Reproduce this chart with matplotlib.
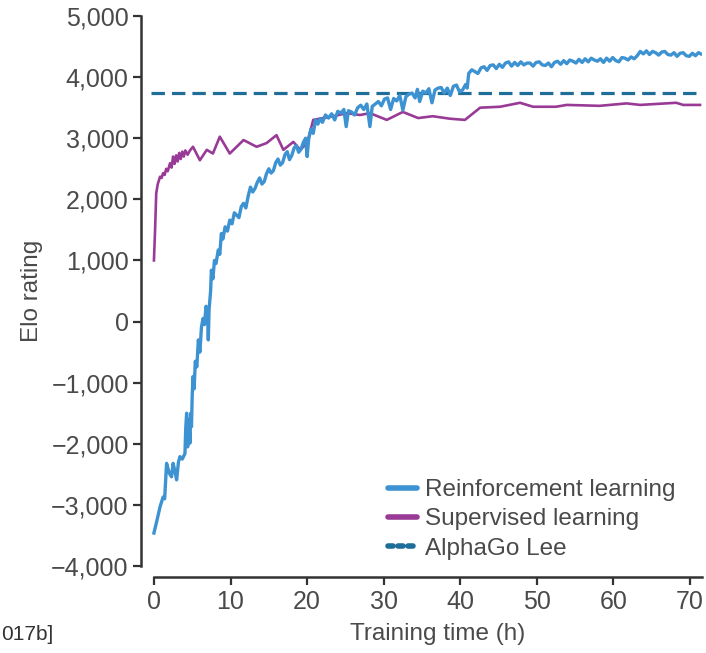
import matplotlib.pyplot as plt
from matplotlib.lines import Line2D
from matplotlib.ticker import FuncFormatter

plt.rcParams['font.family'] = ['Liberation Sans', 'DejaVu Sans']

# Reinforcement learning (blue)
rl_hours = [0, 0.4, 0.8, 1.2, 1.4, 1.65, 2.0, 2.3, 2.5, 2.75, 2.96, 3.2, 3.4, 3.7, 4.05, 4.15,
            4.27, 4.4, 4.55, 4.7, 4.8, 4.9, 5.0, 5.1, 5.25, 5.4, 5.6, 5.8, 6.0, 6.2, 6.4, 6.6,
            6.8, 7.0, 7.1, 7.2, 7.4, 7.5, 7.7, 7.9, 8.1, 8.4, 8.6, 8.8, 9.0, 9.3, 9.6, 9.9,
            10.2, 10.5, 10.8, 11.1, 11.4, 11.7, 12.0, 12.3, 12.6, 12.9, 13.2, 13.5, 13.8, 14.1,
            14.4, 14.7, 15.0, 15.3, 15.6, 15.9, 16.2, 16.5, 16.8, 17.1, 17.4, 17.7, 18.0, 18.3,
            18.6, 18.9, 19.2, 19.5, 19.8, 20.0, 20.2, 20.5, 20.8, 21.1, 21.4, 21.7,
            22.0, 22.4, 22.8, 23.2, 23.6, 24.0, 24.4, 24.8, 25.1, 25.4, 25.8, 26.2, 26.6, 27.0,
            27.4, 27.8, 28.2, 28.5, 28.9, 29.3, 29.7, 30.1, 30.5, 30.9, 31.3, 31.7, 32.1, 32.5,
            32.9, 33.3, 33.7, 34.1, 34.4, 34.7, 35.1, 35.5, 35.9, 36.3, 36.7, 37.1, 37.5, 37.9,
            38.3, 38.7, 39.1, 39.5, 39.9, 40.3, 40.7, 40.9,
            41.1, 41.5, 41.9, 42.3, 42.7, 43.1, 43.5, 43.9, 44.3, 44.7, 45.1, 45.5, 45.9, 46.3,
            46.7, 47.1, 47.5, 47.9, 48.3, 48.7, 49.1, 49.5, 49.9, 50.3, 50.7, 51.1, 51.5, 51.9,
            52.3, 52.7, 53.1, 53.5, 53.9, 54.3, 54.7, 55.1, 55.5, 55.9, 56.3, 56.7, 57.1, 57.5,
            57.9, 58.3, 58.7, 59.1, 59.5, 59.9, 60.3, 60.7, 61.1, 61.5, 61.9, 62.3, 62.7, 63.1,
            63.5, 63.9, 64.3, 64.7, 65.1, 65.5, 65.9, 66.3, 66.7, 67.1, 67.5, 67.9, 68.3, 68.7,
            69.1, 69.5, 69.9, 70.3, 70.7, 71.1, 71.4]
rl_elo = [-3460, -3250, -3030, -2870, -2900, -2320, -2480, -2540, -2320, -2450, -2590, -2300,
          -2210, -2250, -2160, -1750, -1500, -2050, -1600, -1990, -1500, -1720, -1200, -900,
          -1100, -650, -740, -300, -500, -100, 50, -50, 250, 150, -300, 200, 500, 840, 700, 1000,
          950, 1170, 1100, 1440, 1350, 1550, 1480, 1660,
          1600, 1780, 1740, 1700, 1880, 1935, 1860, 2050, 2200, 2120, 2180, 2280, 2350, 2250,
          2290, 2420, 2500, 2430, 2470, 2600, 2660, 2560, 2600, 2730, 2780, 2650, 2720, 2840,
          2880, 2770, 2820, 2930, 3000, 2700, 2980, 3150, 3080, 3300, 3230, 3320,
          3260, 3380, 3330, 3400, 3300, 3440, 3410, 3470, 3190, 3450, 3430, 3380, 3500, 3540,
          3470, 3560, 3190, 3520, 3560, 3600, 3530, 3640, 3660, 3470, 3650, 3610, 3700, 3460,
          3680, 3720, 3740, 3660, 3800, 3600, 3770, 3740, 3810, 3580, 3790, 3820, 3830, 3740,
          3820, 3700, 3850, 3870, 3760, 3790, 3880, 3820,
          4060, 4120, 4090, 4060, 4150, 4170, 4110, 4190, 4200, 4140, 4210, 4160, 4230, 4250,
          4180, 4240, 4190, 4250, 4200, 4230, 4230, 4180, 4240, 4250, 4200, 4190, 4230, 4170,
          4240, 4260, 4210, 4270, 4220, 4280, 4260, 4230, 4290, 4240, 4300, 4250, 4310, 4280,
          4260, 4300, 4240, 4310, 4260, 4320, 4270, 4250, 4320, 4310, 4280, 4330, 4300, 4350,
          4420, 4380, 4430, 4370, 4420, 4400, 4360, 4410, 4420, 4370, 4360, 4400, 4340, 4390,
          4400, 4350, 4340, 4390, 4350, 4400, 4380]

# Supervised learning (purple)
sl_hours = [0, 0.15, 0.3, 0.5, 0.8, 1.0, 1.2, 1.4, 1.6, 1.8, 2.1, 2.3, 2.5, 2.7, 2.9, 3.1, 3.3,
            3.5, 3.7, 3.9, 4.1, 4.4, 4.7, 5.1, 6.0, 6.9, 7.7, 8.6, 9.9, 11.7, 13.4, 14.7, 16.0,
            16.9, 18.2, 19.1, 20.0, 20.8, 23.0, 25.2, 26.9, 28.2, 30.4, 32.5, 34.5, 36.4, 38.6,
            40.6, 42.6, 45.2, 47.8, 49.5, 52.5, 53.9, 58.2, 61.7, 63.5, 68.2, 69.1, 71.3]
sl_elo = [1000, 1500, 2100, 2250, 2370, 2350, 2430, 2400, 2500, 2460, 2590, 2520, 2700, 2580,
          2720, 2620, 2760, 2660, 2780, 2700, 2800, 2730, 2800, 2860, 2640, 2810, 2750, 3025,
          2750, 2970, 2860, 2920, 3050, 2810, 2940, 2810, 2920, 3300, 3350, 3410, 3380, 3410,
          3300, 3430, 3330, 3360, 3320, 3300, 3500, 3515, 3580, 3515, 3515, 3545, 3530, 3570,
          3545, 3580, 3545, 3545]

alphago_lee = 3739

x_ticks = [0, 10, 20, 30, 40, 50, 60, 70]
y_ticks = [-4000, -3000, -2000, -1000, 0, 1000, 2000, 3000, 4000, 5000]

blue = '#3d92d2'
purple = '#993a96'
teal = '#1f6d99'
txt = '#4a4a4a'

fig = plt.figure(figsize=(7.06, 6.53), dpi=100)
ax = fig.add_axes([0.2137, 0.1332, 0.780, 0.8423])

ax.axhline(alphago_lee, color=teal, lw=2.3, dashes=(4.2, 2.2))
ax.plot(sl_hours, sl_elo, color=purple, lw=1.9)
ax.plot(rl_hours, rl_elo, color=blue, lw=2.4)

ax.set_xlim(-0.4, 71.5)
ax.set_ylim(-4000, 5000)
ax.set_xticks(x_ticks)
ax.set_yticks(y_ticks)
ax.yaxis.set_major_formatter(FuncFormatter(lambda v, p: f'{int(v):,}'.replace('-', '\u2212')))

for s in ['top', 'right']:
    ax.spines[s].set_visible(False)
ax.spines['left'].set_position(('outward', 7))
ax.spines['bottom'].set_position(('outward', 8))
ax.spines['bottom'].set_bounds(0, 71.5)
for s in ['left', 'bottom']:
    ax.spines[s].set_linewidth(1.8)
    ax.spines[s].set_color('#333333')
ax.tick_params(length=6, width=1.6, color='#333333', labelsize=18, labelcolor=txt, pad=3)

ax.set_xlabel('Training time (h)', fontsize=17.5, color=txt)
ax.set_ylabel('Elo rating', fontsize=17.5, color=txt)
ax.xaxis.set_label_coords(0.52, -0.103)
ax.yaxis.set_label_coords(-0.195, 0.5)

handles = [Line2D([], [], color=blue, lw=4, solid_capstyle='round'),
           Line2D([], [], color=purple, lw=4, solid_capstyle='round'),
           Line2D([], [], color=teal, lw=4, dashes=(0.9, 0.9), dash_capstyle='round')]
ax.legend(handles, ['Reinforcement learning', 'Supervised learning', 'AlphaGo Lee'],
          loc='upper left', bbox_to_anchor=(0.532, 0.285), bbox_transform=fig.transFigure,
          frameon=False, fontsize=17.5, handlelength=1.2, handletextpad=0.35,
          labelspacing=0.3, borderpad=0, labelcolor=txt)

fig.text(0.002, 0.02, '017b]', fontsize=15, color='#333333')

fig.savefig('out.png', dpi=100)
